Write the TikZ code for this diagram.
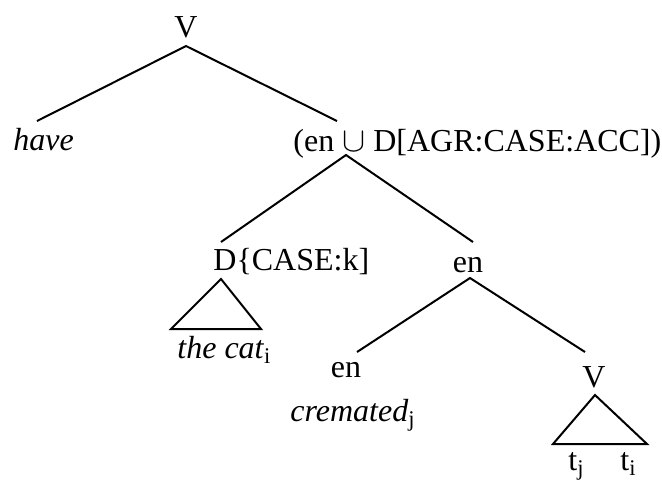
\documentclass[tikz,border=0pt]{standalone}
\usepackage{fontspec}
\setmainfont{Liberation Serif}
\tikzset{
  lbl/.style={inner sep=0pt,font=\fontsize{16}{19}\selectfont},
  branch/.style={line width=1pt,line join=miter}
}
\begin{document}
\begin{tikzpicture}[x=0.5pt,y=-0.5pt]
                \useasboundingbox (0,0) rectangle (662,484);
                % labels
                \node[lbl,anchor=base] (V) at (186,37) {V};
                \node[lbl,anchor=base west] (have) at (13,150) {\textit{have}};
                \node[lbl,anchor=base west] (enD) at (293,151) {(en $\cup$ D[AGR:CASE:ACC])};
                \node[lbl,anchor=base west] (D) at (213,270) {D\{CASE:k]};
                \node[lbl,anchor=base] (en) at (468,272) {en};
                \node[lbl,anchor=base west] (cat) at (177,358) {\textit{the cat}\textsubscript{i}};
                \node[lbl,anchor=base] (en2) at (346,377) {en};
                \node[lbl,anchor=base west] (cremated) at (290,421) {\textit{cremated}\textsubscript{j}};
                \node[lbl,anchor=base] (V2) at (594,387) {V};
                \node[lbl,anchor=base west] (tj) at (568,470) {t\textsubscript{j}};
                \node[lbl,anchor=base west] (ti) at (620,470) {t\textsubscript{i}};
                % branch points
                \coordinate (Vb) at (186,46);
                \coordinate (haveT) at (37,121);
                \coordinate (enDT) at (337,121);
                \coordinate (enDb) at (346,155);
                \coordinate (DT) at (221,242);
                \coordinate (enT) at (473,242);
                \coordinate (Db) at (221,279);
                \coordinate (catL) at (171,329);
                \coordinate (catR) at (261,329);
                \coordinate (enb) at (470,278);
                \coordinate (en2T) at (357,352);
                \coordinate (V2T) at (585,352);
                \coordinate (V2b) at (595,395);
                \coordinate (tL) at (553,444);
                \coordinate (tR) at (647,444);
                \draw[branch] (haveT) -- (Vb) -- (enDT);
                \draw[branch] (DT) -- (enDb) -- (enT);
                \draw[branch] (Db) -- (catL) -- (catR) -- cycle;
                \draw[branch] (en2T) -- (enb) -- (V2T);
                \draw[branch] (V2b) -- (tL) -- (tR) -- cycle;
            \end{tikzpicture}
\end{document}
